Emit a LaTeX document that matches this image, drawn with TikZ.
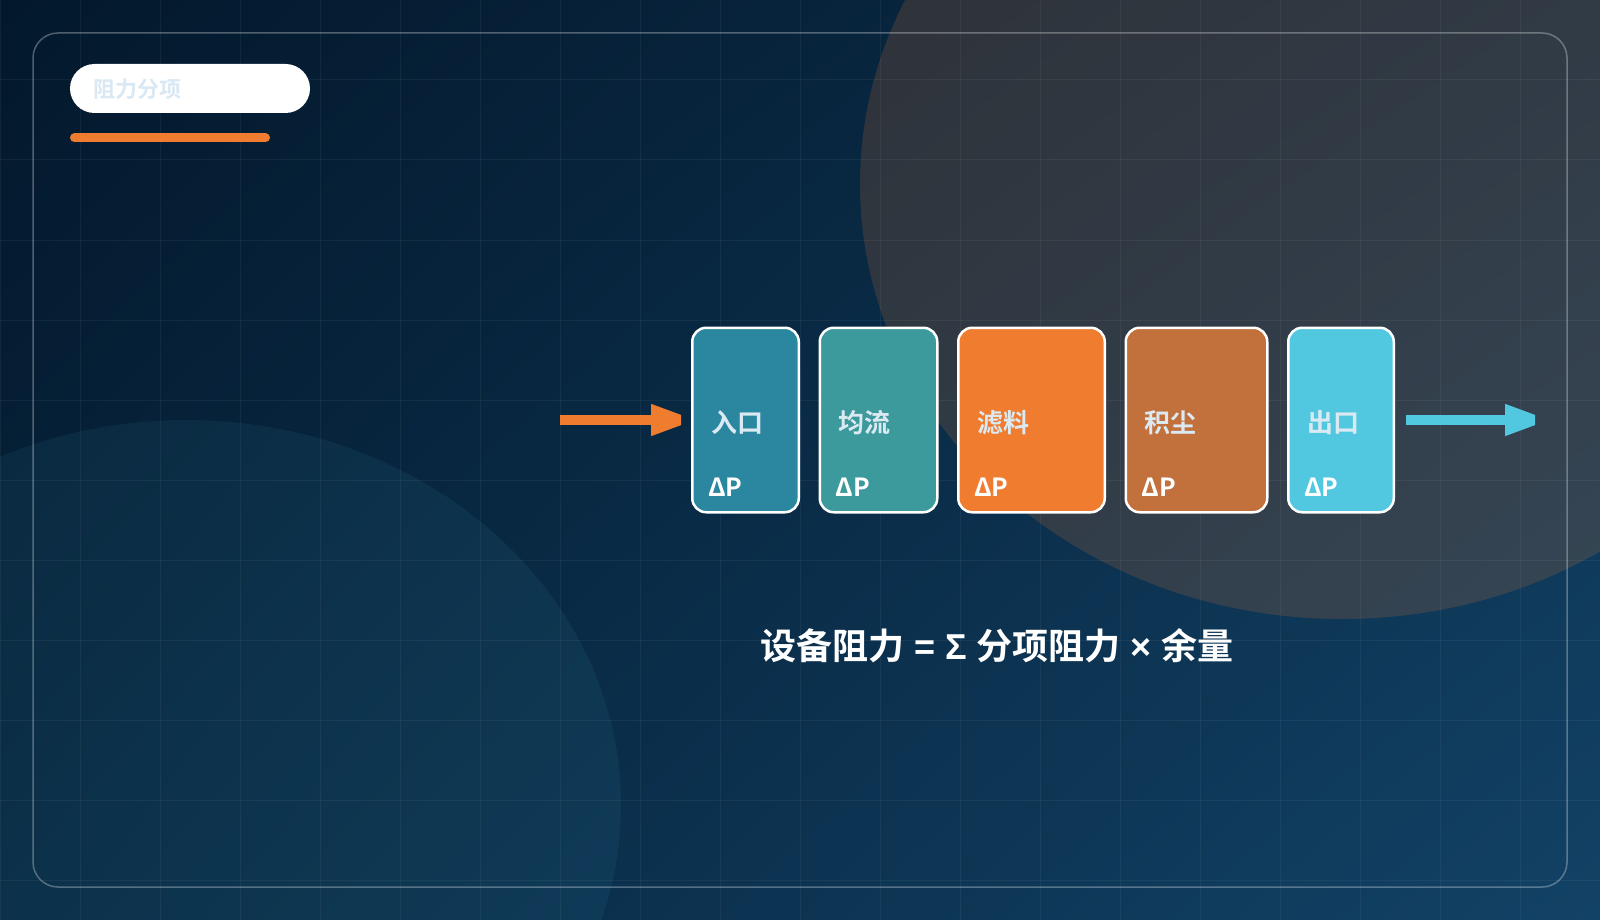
\documentclass[tikz,border=0pt]{standalone}
\usepackage{fontspec}
\setmainfont{Noto Sans CJK SC}[BoldFont={Noto Sans CJK SC Bold}]
\newfontfamily\latin{Liberation Sans}
\usetikzlibrary{positioning,arrows.meta,shadings}
\definecolor{bgtl}{HTML}{03182C}
\definecolor{bgtr}{HTML}{0B2E4A}
\definecolor{bgbl}{HTML}{07263F}
\definecolor{bgbr}{HTML}{124266}
\definecolor{glowcyan}{HTML}{50C8E0}
\definecolor{accent}{HTML}{F07C30}
\definecolor{c1}{HTML}{2B86A0}
\definecolor{c2}{HTML}{3C9A9C}
\definecolor{c3}{HTML}{F07C30}
\definecolor{c4}{HTML}{C2703C}
\definecolor{c5}{HTML}{52C8E0}
\definecolor{tagc}{HTML}{DBEAF2}
\definecolor{titlec}{HTML}{D9E8F2}

\begin{document}
\begin{tikzpicture}[x=1pt,y=-1pt,
  box/.style={draw=white,line width=2.5pt,rounded corners=14pt,minimum height=184.5pt,inner sep=0pt},
  tag/.style={anchor=west,inner sep=0pt,text=tagc,font=\bfseries\fontsize{26}{26}\selectfont},
  dp/.style={anchor=west,inner sep=0pt,text=white,font=\bfseries\fontsize{25}{25}\selectfont},
  flow/.style={line width=10pt,-{Triangle[length=46pt,width=29pt]}},
  gridline/.style={white,opacity=.05,line width=1pt}]
  \useasboundingbox (0,0) rectangle (1600,920);
  % background
  \shade[upper left=bgtl,upper right=bgtr,lower left=bgbl,lower right=bgbr] (0,0) rectangle (1600,920);
  \fill[accent,fill opacity=.17] (1342,184) ellipse [x radius=482,y radius=435];
  \fill[glowcyan,fill opacity=.07] (186,805) ellipse [x radius=435,y radius=385];
  \foreach \x in {0,80,...,1600} \draw[gridline] (\x,0) -- (\x,920);
  \foreach \y in {0,80,...,880} \draw[gridline] (0,\y) -- (1600,\y);
  \draw[white,opacity=.3,line width=1.5pt,rounded corners=25pt] (33,33) rectangle (1567,887);

  % title
  \fill[white,rounded corners=24.5pt] (70,64) rectangle (310,113);
  \node[anchor=west,inner sep=0pt,text=titlec,font=\bfseries\fontsize{22}{22}\selectfont] (title) at (93,89) {阻力分项};
  \draw[accent,line width=9pt,line cap=round] (74.5,138) -- (265.5,138);

  % stages
  \node[box,fill=c1,minimum width=106.5pt] (inlet) at (745.5,420) {};
  \node[box,fill=c2,minimum width=117.5pt,right=18.5pt of inlet] (equal) {};
  \node[box,fill=c3,minimum width=146.5pt,right=18.5pt of equal] (media) {};
  \node[box,fill=c4,minimum width=141.5pt,right=18.5pt of media] (dust) {};
  \node[box,fill=c5,minimum width=105.5pt,right=18.5pt of dust] (outlet) {};

  \node[tag] (inlet-t) at ([xshift=20pt,yshift=-3pt]inlet.west) {入口};
  \node[tag] (equal-t) at ([xshift=20pt,yshift=-3pt]equal.west) {均流};
  \node[tag] (media-t) at ([xshift=20pt,yshift=-3pt]media.west) {滤料};
  \node[tag] (dust-t) at ([xshift=20pt,yshift=-3pt]dust.west) {积尘};
  \node[tag] (outlet-t) at ([xshift=20pt,yshift=-3pt]outlet.west) {出口};

  \node[dp] (inlet-p) at ([xshift=17pt,yshift=-67pt]inlet.west) {ΔP};
  \node[dp] (equal-p) at ([xshift=17pt,yshift=-67pt]equal.west) {ΔP};
  \node[dp] (media-p) at ([xshift=17pt,yshift=-67pt]media.west) {ΔP};
  \node[dp] (dust-p) at ([xshift=17pt,yshift=-67pt]dust.west) {ΔP};
  \node[dp] (outlet-p) at ([xshift=17pt,yshift=-67pt]outlet.west) {ΔP};

  % flow in / out (blunt tips)
  \coordinate (src) at (560,420);
  \coordinate (sink) at (1535,420);
  \begin{scope}
    \clip (0,0) rectangle ([xshift=-10pt]inlet.south west);
    \draw[flow,accent,shorten >=-6pt] (src) -- (inlet);
  \end{scope}
  \begin{scope}
    \clip (outlet.north east) rectangle (sink |- outlet.south);
    \draw[flow,c5,shorten <=11pt,shorten >=-16pt] (outlet) -- (sink);
  \end{scope}

  \node[text=white,font=\bfseries\fontsize{36}{36}\selectfont] (sum) at (997,646)
    {设备阻力{\latin{} = Σ }分项阻力{\latin{} × }余量};
\end{tikzpicture}
\end{document}
